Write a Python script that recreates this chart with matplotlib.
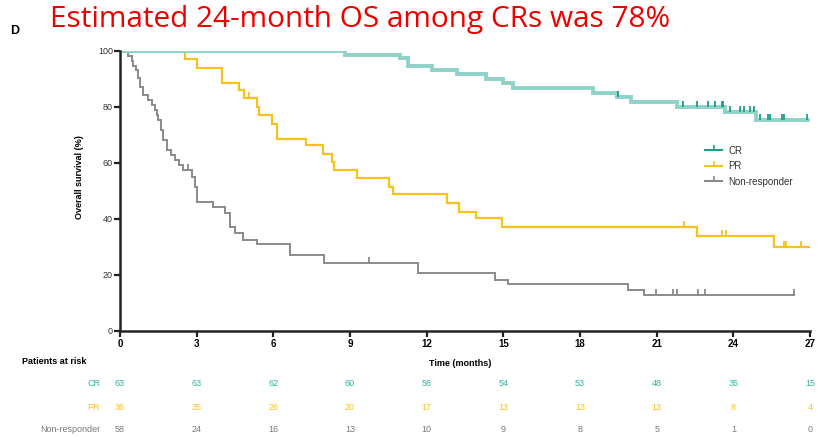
import numpy as np
import matplotlib
matplotlib.use("Agg")
import matplotlib.pyplot as plt
from matplotlib.path import Path
from matplotlib.lines import Line2D

plt.rcParams['font.family'] = ['Liberation Sans', 'DejaVu Sans']

# ---------------- data ----------------
groups = ["CR", "PR", "Non-responder"]

cr_t = [0, 8.8, 10.96, 11.28, 12.19, 13.17, 14.34, 14.97, 15.39, 18.52, 19.43, 20.0, 21.8, 23.67, 24.87]
cr_s = [100, 98.6, 97.4, 94.6, 93.2, 91.8, 90.0, 88.4, 86.7, 84.9, 83.7, 81.9, 79.9, 78.3, 75.4]
cr_end = 26.93
cr_cens = [5.24, 6.46, 19.47, 22.04, 22.58, 23.01, 23.27, 23.54, 23.6, 23.86, 24.25, 24.42,
           24.64, 24.8, 25.04, 25.36, 25.43, 25.89, 25.99, 26.9]

pr_t = [0, 2.54, 3.0, 3.98, 4.67, 4.85, 5.35, 5.44, 5.93, 6.13, 7.26, 7.95, 8.28, 8.37, 9.28,
        10.54, 10.67, 12.78, 13.27, 13.95, 14.93, 22.59, 25.59]
pr_s = [100, 97.1, 93.8, 88.4, 86.1, 83.1, 80.1, 77.1, 73.9, 68.4, 66.4, 63.1, 60.2, 57.5, 54.5,
        51.5, 48.9, 45.6, 42.6, 40.2, 37.0, 33.9, 30.1]
pr_end = 27.0
pr_cens = [5.06, 22.08, 23.54, 23.7, 25.97, 26.05, 26.64]

nr_t = [0, 0.33, 0.45, 0.52, 0.61, 0.69, 0.78, 0.91, 1.11, 1.24, 1.35, 1.43, 1.5, 1.6, 1.69,
        1.85, 2.0, 2.15, 2.3, 2.48, 2.8, 2.93, 3.0, 3.65, 4.1, 4.3, 4.5, 4.83, 5.35, 6.65, 8.0,
        11.67, 14.67, 15.2, 19.89, 20.5]
nr_s = [100, 98.3, 96.6, 94.8, 93.1, 90.2, 87.3, 84.3, 82.5, 80.7, 79.0, 77.1, 75.4, 71.8, 68.2,
        64.6, 62.9, 61.1, 59.3, 57.5, 55.1, 51.5, 46.2, 44.4, 42.0, 37.3, 35.1, 32.5, 31.1, 27.1, 24.4,
        20.6, 18.2, 16.7, 14.6, 12.7]
nr_end = 26.37
nr_cens = [2.67, 9.75, 20.97, 21.65, 21.78, 22.6, 22.9, 26.37]

risk_times = [0, 3, 6, 9, 12, 15, 18, 21, 24, 27]
risk_cr = [63, 63, 62, 60, 58, 54, 53, 48, 35, 15]
risk_pr = [36, 35, 26, 20, 17, 13, 13, 13, 8, 4]
risk_nr = [58, 24, 16, 13, 10, 9, 8, 5, 1, 0]

title = "Estimated 24-month OS among CRs was 78%"

# ---------------- style ----------------
col_cr_line = '#8fd2c7'
col_cr = '#17a08e'
col_pr = '#f7c21b'
col_nr = '#8a8a8a'
risk_cols = ['#35b0a0', '#f7c21b', '#7a7a7a']

W, H = 819, 437
fig = plt.figure(figsize=(W / 100, H / 100), dpi=100)
ax = fig.add_axes([120 / W, 1 - 331 / H, 690 / W, 280 / H])

tick_up = Path([(0, 0), (0, 1)], [Path.MOVETO, Path.LINETO])


def draw(t, s, end, cens, lcol, ccol, lw):
    tt = list(t) + [end]
    ss = list(s) + [s[-1]]
    ax.step(tt, ss, where='post', color=lcol, lw=lw, solid_joinstyle='miter', zorder=2)
    idx = np.searchsorted(np.asarray(t), np.asarray(cens), side='right') - 1
    cy = np.asarray(s)[idx]
    ax.plot(cens, cy, linestyle='none', marker=tick_up, markersize=9, mfc='none',
            mec=ccol, mew=1.3, zorder=3)


draw(nr_t, nr_s, nr_end, nr_cens, col_nr, col_nr, 1.4)
draw(pr_t, pr_s, pr_end, pr_cens, col_pr, col_pr, 1.6)
draw(cr_t, cr_s, cr_end, cr_cens, col_cr_line, col_cr, 2.8)

ax.set_xlim(0, 27)
ax.set_ylim(0, 100)
ax.set_xticks(risk_times)
ax.set_yticks([0, 20, 40, 60, 80, 100])
for sp in ['top', 'right']:
    ax.spines[sp].set_visible(False)
for sp in ['left', 'bottom']:
    ax.spines[sp].set_linewidth(1.8)
    ax.spines[sp].set_color('#222222')
ax.tick_params(axis='both', direction='out', length=4, width=1.6, color='#222222')
ax.tick_params(axis='x', labelsize=7, pad=2)
ax.tick_params(axis='y', labelsize=6.5, pad=1, labelcolor='#333333')
for lab in ax.get_xticklabels():
    lab.set_fontweight('bold')
ax.set_ylabel("Overall survival (%)", fontsize=6.5, fontweight='bold', labelpad=12)
ax.yaxis.set_label_coords(-0.052, 0.55)
ax.patch.set_alpha(0)

# legend
handles = [
    Line2D([0], [0], color=col_cr, lw=1.5, marker=tick_up, markersize=7, mfc='none', mec=col_cr, mew=1.2),
    Line2D([0], [0], color=col_pr, lw=1.5, marker=tick_up, markersize=7, mfc='none', mec=col_pr, mew=1.2),
    Line2D([0], [0], color=col_nr, lw=1.5, marker=tick_up, markersize=7, mfc='none', mec=col_nr, mew=1.2),
]
leg = fig.legend(handles, groups, loc='upper left', bbox_to_anchor=(700 / W, 1 - 141 / H),
                 frameon=False, fontsize=7, handlelength=1.8, handletextpad=0.6,
                 labelspacing=0.55, borderpad=0)
for txt in leg.get_texts():
    txt.set_color('#333333')

# title and panel letter
fig.text(50 / W, 1 - 19 / H, title, color='#ee0000', fontsize=21.4,
         family=['Open Sans', 'DejaVu Sans'], va='center', ha='left')
fig.text(10 / W, 1 - 31 / H, "D", fontsize=9, fontweight='bold', va='center', ha='left')

# at-risk table
fig.text(22 / W, 1 - 362 / H, "Patients at risk", fontsize=6.5, fontweight='bold', va='center', ha='left')
fig.text(460 / W, 1 - 363 / H, "Time (months)", fontsize=6.5, fontweight='bold', va='center', ha='center')
row_y = [383, 408, 430]
for g, vals, c, yy in zip(groups, [risk_cr, risk_pr, risk_nr], risk_cols, row_y):
    fig.text(100 / W, 1 - yy / H, g, fontsize=6.5, color=c, va='center', ha='right')
    for tt, v in zip(risk_times, vals):
        xfig = ax.transData.transform((tt, 0))[0] / W
        fig.text(xfig, 1 - yy / H, str(v), fontsize=6.5, color=c, va='center', ha='center')

fig.savefig("out.png", dpi=100)
